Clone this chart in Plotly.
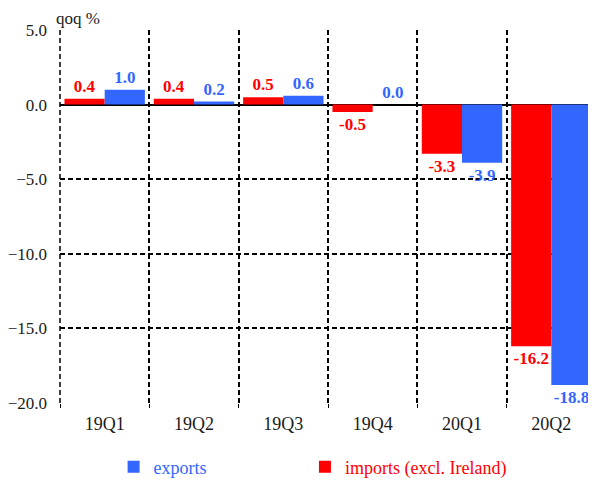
import plotly.graph_objects as go

quarters = ["19Q1", "19Q2", "19Q3", "19Q4", "20Q1", "20Q2"]
imports_excl_ireland = [0.4, 0.4, 0.5, -0.5, -3.3, -16.2]
exports = [1.0, 0.2, 0.6, 0.0, -3.9, -18.8]
y_ticks = [5, 0, -5, -10, -15, -20]

RED = "#ff0000"
BLUE = "#3366ff"
SERIF = "Liberation Serif, DejaVu Serif, serif"

fig = go.Figure()
fig.add_trace(go.Bar(
    x=quarters, y=imports_excl_ireland,
    name=f"<span style='color:{RED}'>imports (excl. Ireland)</span>",
    legend="legend2",
    marker=dict(color=RED, line=dict(width=0)),
    text=[f"{v:.1f}" for v in imports_excl_ireland], textposition="outside",
    textfont=dict(family=SERIF, size=17, color=RED, weight="bold"),
    cliponaxis=False, constraintext="none",
))
fig.add_trace(go.Bar(
    x=quarters, y=exports,
    name=f"<span style='color:{BLUE}'>exports</span>",
    legend="legend",
    marker=dict(color=BLUE, line=dict(width=0)),
    text=[f"{v:.1f}" for v in exports], textposition="outside",
    textfont=dict(family=SERIF, size=17, color=BLUE, weight="bold"),
    cliponaxis=False, constraintext="none",
))

legend_style = dict(
    orientation="h", xanchor="left", y=-0.172, yanchor="middle",
    font=dict(family=SERIF, size=18), itemwidth=30,
    bgcolor="rgba(0,0,0,0)",
)

# the page body adds an 8px margin, so the figure is 8px smaller
fig.update_layout(
    width=588, height=474,
    margin=dict(l=52, r=0, t=22, b=79, autoexpand=False),
    paper_bgcolor="white", plot_bgcolor="white",
    font=dict(family=SERIF, size=18, color="#1a1a1a"),
    barmode="group", bargap=0.1, bargroupgap=0,
    showlegend=True,
    legend=dict(legend_style, x=0.1),
    legend2=dict(legend_style, x=0.457),
    annotations=[dict(
        text="qoq %", xref="paper", yref="paper", x=-0.012, y=1.032,
        xanchor="left", yanchor="middle", showarrow=False,
        font=dict(family=SERIF, size=17, color="#1a1a1a"),
    )],
    shapes=[dict(
        type="line", xref="paper", yref="paper", x0=0, x1=0, y0=0, y1=1,
        line=dict(color="black", width=1.5, dash="5px,3px"),
    )],
)
fig.update_xaxes(
    type="category", tickson="boundaries", automargin=False,
    showgrid=True, gridcolor="black", gridwidth=1.5, griddash="5px,3px",
    ticks="outside", ticklen=4, tickcolor="black",
    ticklabelstandoff=8,
    showline=False, zeroline=False,
)
fig.update_yaxes(
    range=[-20, 5], tickvals=y_ticks, tickformat=".1f", automargin=False,
    tickfont=dict(size=17),
    showgrid=True, gridcolor="black", gridwidth=1.5, griddash="5px,3px",
    zeroline=True, zerolinecolor="black", zerolinewidth=1.5,
    showline=False, ticks="", ticklabelstandoff=12,
)

fig.write_html("out.html")
